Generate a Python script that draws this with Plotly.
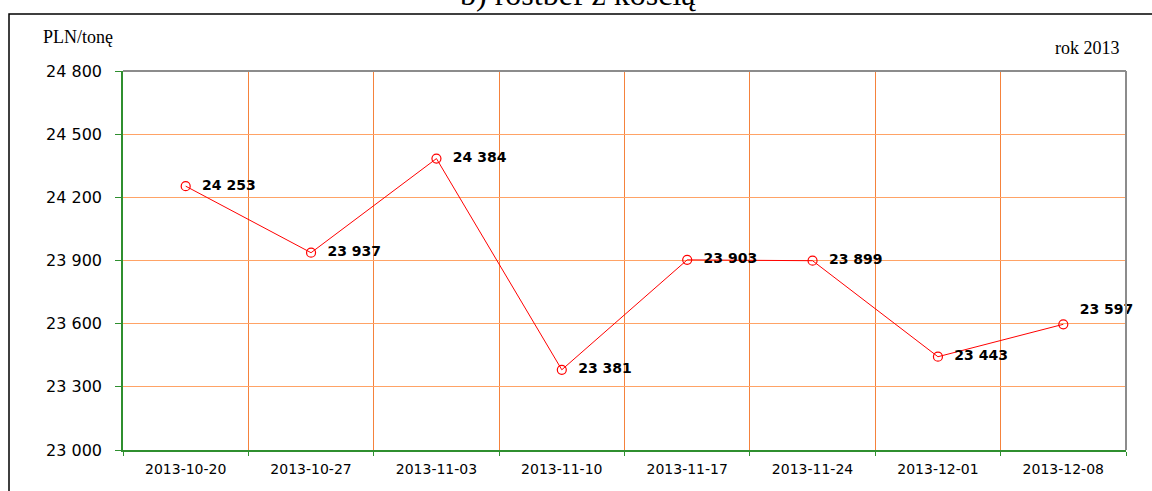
import plotly.graph_objects as go

weeks = ["2013-10-20", "2013-10-27", "2013-11-03", "2013-11-10",
         "2013-11-17", "2013-11-24", "2013-12-01", "2013-12-08"]
prices = [24253, 23937, 24384, 23381, 23903, 23899, 23443, 23597]
label_pos = ["middle right"] * 7 + ["top right"]

y_ticks = [23000, 23300, 23600, 23900, 24200, 24500, 24800]

GREEN = "#2F8F2F"
RED = "#FF0000"
SANS = "DejaVu Sans, Verdana, sans-serif"
SERIF = "Liberation Serif, Times New Roman, serif"

labels = [f"{v:,}".replace(",", " ") for v in prices]

fig = go.Figure()
fig.add_scatter(
    x=weeks, y=prices,
    mode="lines+markers+text",
    line=dict(color=RED, width=1),
    marker=dict(symbol="circle-open", size=9, color=RED, line=dict(width=1.2)),
    text=["  " + t for t in labels],
    textposition=label_pos,
    textfont=dict(family=SANS, size=14, color="#000000", weight="bold"),
    cliponaxis=False,
    showlegend=False,
)

fig.update_xaxes(
    type="category",
    tickson="boundaries",
    showgrid=True, gridcolor="#F5823C", gridwidth=1,
    showline=True, linecolor=GREEN, linewidth=1.5,
    ticks="outside", ticklen=4, tickcolor=GREEN,
    ticklabelstandoff=5,
    tickfont=dict(family=SANS, size=14, color="#000"),
    range=[-0.5, 7.5],
    zeroline=False,
)
fig.update_yaxes(
    range=[23000, 24800],
    tickvals=y_ticks,
    tickformat=",d",
    showgrid=True, gridcolor="#FFA366", gridwidth=1,
    showline=True, linecolor=GREEN, linewidth=1.5,
    ticks="outside", ticklen=6, tickcolor=GREEN,
    ticklabelstandoff=10,
    tickfont=dict(family=SANS, size=16, color="#000"),
    zeroline=False,
)

fig.update_layout(
    width=1152, height=491,
    margin=dict(l=123, r=26, t=71, b=41),
    plot_bgcolor="white", paper_bgcolor="white",
    separators=". ",
    shapes=[
        # outer frame (bottom and right run past the picture)
        dict(type="rect", xref="paper", yref="paper",
             x0=-114 / 1003, x1=1.2, y0=-0.3, y1=1 + 57 / 379,
             line=dict(color="#000", width=1.5), layer="below"),
        # top and right edges of the plot area
        dict(type="line", xref="paper", yref="paper", x0=0, x1=1, y0=1, y1=1,
             line=dict(color="#8C8C8C", width=2), layer="above"),
        dict(type="line", xref="paper", yref="paper", x0=1, x1=1, y0=0, y1=1,
             line=dict(color="#8C8C8C", width=2), layer="above"),
    ],
    annotations=[
        # title sits mostly above the top edge, only its lower half shows
        dict(text="b) rostbef z kością", xref="paper", yref="paper",
             x=0.4536, y=1 + 77 / 379, yanchor="middle", showarrow=False,
             font=dict(family=SERIF, size=32, color="#000")),
        dict(text="PLN/tonę", xref="paper", yref="paper",
             x=-82 / 1003, y=1 + 34 / 379, xanchor="left", yanchor="middle", showarrow=False,
             font=dict(family=SERIF, size=18, color="#000")),
        dict(text="rok 2013", xref="paper", yref="paper",
             x=1 - 4 / 1003, y=1 + 23 / 379, xanchor="right", yanchor="middle", showarrow=False,
             font=dict(family=SERIF, size=18, color="#000")),
    ],
)

fig.write_html("out.html", config={"displayModeBar": False},
               post_script="document.body.style.margin = '0';")
